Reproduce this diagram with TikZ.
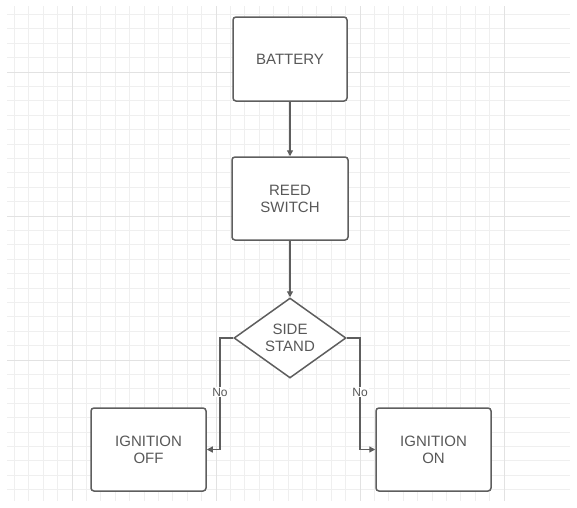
\documentclass[tikz,border=0pt]{standalone}
\usepackage{fontspec}
\setmainfont{Liberation Sans}
\usetikzlibrary{shapes.geometric,arrows.meta}
\definecolor{ink}{HTML}{585858}
\definecolor{edge}{HTML}{5E5E5E}
\definecolor{gridminor}{HTML}{EFEFEF}
\definecolor{gridmajor}{HTML}{E2E2E2}
\tikzset{
  box/.style={draw=edge, line width=1.5pt, rounded corners=3pt, fill=white,
    minimum width=115pt, minimum height=83pt, align=center, text=ink,
    font=\fontsize{15}{17}\selectfont, inner sep=0pt},
  diam/.style={draw=edge, line width=1.5pt, diamond, fill=white,
    minimum width=112pt, minimum height=80pt, inner sep=0pt, shape aspect=1.4,
    align=center, text=ink, font=\fontsize{15}{17}\selectfont},
  arr/.style={draw=edge, line width=1.3pt, -{Triangle[length=6pt,width=6pt]}},
  lab/.style={fill=white, text=ink, inner sep=1pt, font=\fontsize{12}{13}\selectfont},
  gmin/.style={draw=gridminor, line width=0.8pt},
  gmaj/.style={draw=gridmajor, line width=1pt}
}
\begin{document}
\begin{tikzpicture}[x=1pt,y=-1pt]
\useasboundingbox[fill=white] (0,0) rectangle (577,507);
% grid
\foreach \k in {1,...,34} {
  \pgfmathsetmacro{\p}{14.4*\k}
  \draw[gmin] (\p,6) -- (\p,501);
}
\foreach \k in {1,...,34} {
  \pgfmathsetmacro{\p}{14.4*\k}
  \ifdim\p pt<501pt
    \draw[gmin] (7,\p) -- (570,\p);
  \fi
}
\foreach \p in {72,216,360,504} {
  \draw[gmaj] (\p,6) -- (\p,501);
}
\foreach \p in {72,216,360} {
  \draw[gmaj] (7,\p) -- (570,\p);
}
% nodes
\node[box, minimum width=114pt, minimum height=84pt] (bat) at (290,59) {BATTERY};
\node[box, minimum width=116pt] (reed) at (290,198.5) {REED\\SWITCH};
\node[diam] (side) at (290,338) {SIDE\\STAND};
\node[box] (off) at (148.5,449.5) {IGNITION\\OFF};
\node[box] (on) at (433.5,449.5) {IGNITION\\ON};
\coordinate (lc) at (220,338);
\coordinate (rc) at (360,338);
% connectors
\draw[arr] (bat) -- (reed);
\draw[arr] (reed) -- (side);
\draw[arr] (side.west) -- (lc) |- (off.east);
\draw[arr] (side.east) -- (rc) |- (on.west);
\node[lab] (nol) at (220,392) {No};
\node[lab] (nor) at (360,392) {No};
\end{tikzpicture}
\end{document}
